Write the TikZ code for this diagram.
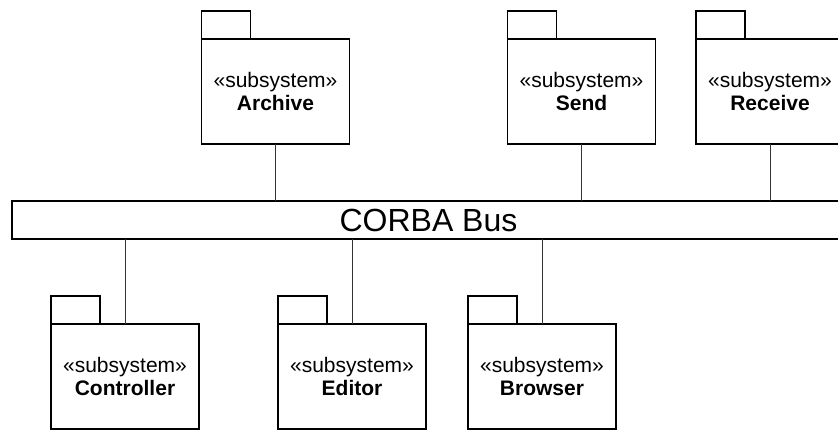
\documentclass[tikz,border=0pt]{standalone}
\usepackage{fontspec}
\setmainfont{Liberation Sans}
\begin{document}
\begin{tikzpicture}[x=1pt,y=-1pt,
  pkg/.style={draw, fill=white, line width=1.5pt, outer sep=0pt, inner sep=0pt,
    minimum width=148pt, minimum height=105pt, align=center,
    font=\fontsize{21}{23.5}\selectfont},
  pkgtab/.style={draw, fill=white, line width=1.5pt},
  busbox/.style={draw, fill=white, line width=1.5pt, outer sep=0pt, inner sep=0pt,
    minimum width=833pt, minimum height=38pt, font=\fontsize{32}{32}\selectfont},
  link/.style={draw=black!80, line width=1pt}]
\useasboundingbox (0,0) rectangle (838,432);
% the bus
\node[busbox] (bus) at (428.5,220) {CORBA Bus};
% subsystems above the bus
\node[pkg] (archive) at (275.5,91.5) {«subsystem»\\\textbf{Archive}};
\node[pkg] (send) at (581.5,91.5) {«subsystem»\\\textbf{Send}};
\node[pkg] (receive) at (770,91.5) {«subsystem»\\\textbf{Receive}};
% subsystems below the bus
\node[pkg] (controller) at (125,376.5) {«subsystem»\\\textbf{Controller}};
\node[pkg] (editor) at (352,376.5) {«subsystem»\\\textbf{Editor}};
\node[pkg] (browser) at (542,376.5) {«subsystem»\\\textbf{Browser}};
% package tabs
\foreach \p in {archive,send,receive,controller,editor,browser}
  \draw[pkgtab] (\p.north west) rectangle ++(49,-28);
% connections to the bus
\foreach \p in {archive,send,receive}
  \draw[link] (\p.south) -- (\p.south |- bus.north);
\foreach \p in {controller,editor,browser}
  \draw[link] (\p.north) -- (\p.north |- bus.south);
\end{tikzpicture}
\end{document}
